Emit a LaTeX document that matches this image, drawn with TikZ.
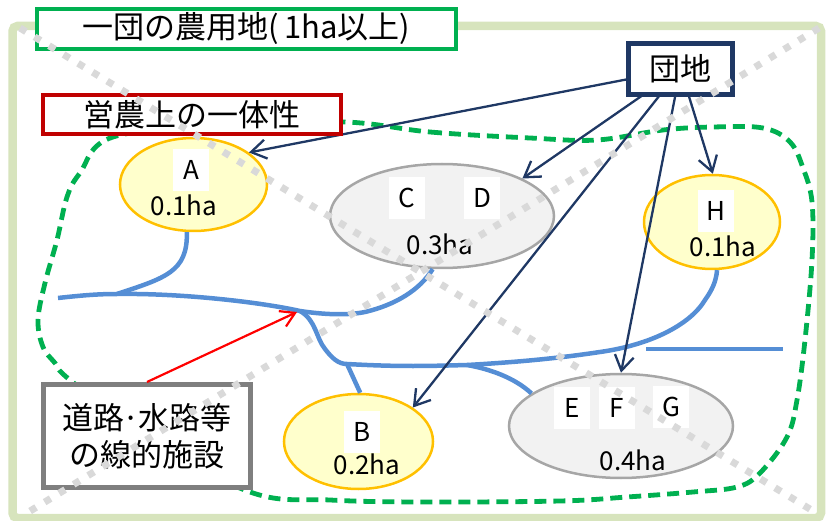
\documentclass[tikz,border=0pt]{standalone}
\usepackage{fontspec}
\newfontfamily\jp{Noto Sans CJK JP}
\usetikzlibrary{arrows.meta,shapes.geometric}
\definecolor{frameg}{HTML}{D7E4BD}
\definecolor{greenB}{HTML}{00B050}
\definecolor{redB}{HTML}{C00000}
\definecolor{navy}{HTML}{1F3864}
\definecolor{grayB}{HTML}{7F7F7F}
\definecolor{yelB}{HTML}{FFC000}
\definecolor{yelF}{HTML}{FFFFCC}
\definecolor{gryB}{HTML}{A6A6A6}
\definecolor{gryF}{HTML}{F2F2F2}
\definecolor{roadB}{HTML}{558ED5}
\definecolor{dotg}{HTML}{D9D9D9}
\pgfdeclarelayer{front}
\pgfdeclarelayer{top}
\pgfsetlayers{main,front,top}
\begin{document}
\begin{tikzpicture}[x=1pt,y=-1pt,font=\jp,
  box/.style={draw,fill=white,inner sep=0pt,align=center,font=\jp\fontsize{31}{37}\selectfont},
  yel/.style={ellipse,draw=yelB,fill=yelF,line width=2.5pt,inner sep=0pt},
  gry/.style={ellipse,draw=gryB,fill=gryF,line width=2.5pt,inner sep=0pt},
  lab/.style={fill=white,inner sep=0pt,minimum width=36pt,minimum height=42pt,font=\jp\fontsize{26}{30}\selectfont},
  ha/.style={inner sep=0pt,font=\jp\fontsize{26}{30}\selectfont},
  road/.style={draw=roadB,line width=4.5pt},
  link/.style={draw=navy,line width=2.3pt,-{Straight Barb[length=15pt,width=19pt]}},
  redlink/.style={draw=red,line width=2.2pt,-{Straight Barb[length=14pt,width=17pt]}},
  dotx/.style={draw=dotg,line width=7pt,dash pattern=on 7pt off 10pt},
  loop/.style={draw=greenB,line width=4.8pt,dash pattern=on 12pt off 7pt}
]
\useasboundingbox (0,0) rectangle (827,521);
% outer frame
\draw[frameg,line width=8.5pt,rounded corners=5pt] (12.5,26) rectangle (821,518);
% green dashed boundary
\draw[loop] plot[smooth cycle,tension=0.6] coordinates {(345,122) (430,132) (530,138) (597,140) (663,130) (713,127) (763,128) (790,142) (803,168) (812,202) (812,260) (805,340) (797,400) (787,437) (760,473) (737,487) (693,492) (627,497) (560,501) (420,502) (330,500) (253,493) (150,440) (70,380) (55,363) (43,347) (38,320) (45,283) (57,240) (67,197) (80,173) (113,137) (230,125)};
% ellipses
\node[yel,minimum width=147pt,minimum height=93pt] (A) at (193.5,184.5) {};
\node[gry,minimum width=224pt,minimum height=104pt] (CD) at (442,216) {};
\node[yel,minimum width=136pt,minimum height=94pt] (H) at (712,222) {};
\node[yel,minimum width=149pt,minimum height=95pt] (B) at (358.5,441.5) {};
\node[gry,minimum width=224pt,minimum height=104pt] (EFG) at (621,426) {};
% roads
\coordinate (j1) at (117,294);
\coordinate (j2) at (300,311);
\coordinate (j3) at (347,364);
\coordinate (j4) at (467,365);
\coordinate (w1) at (58,298);
\coordinate (h1) at (646,349);
\coordinate (h2) at (783,349);
\draw[road] (w1) .. controls (85,295) and (100,294) .. (j1) .. controls (180,293) and (260,302) .. (j2) .. controls (320,314) and (345,316) .. (365,312) .. controls (395,305) and (420,290) .. (CD.260);
\draw[road] (j1) .. controls (165,278) and (188,272) .. (A.262);
\draw[road] (j2) .. controls (316,320) and (316,338) .. (325,349) .. controls (332,358) and (338,364) .. (j3) .. controls (400,367) and (430,366) .. (j4) .. controls (520,362) and (560,358) .. (600,352) .. controls (650,345) and (690,325) .. (705,300) .. controls (712,290) and (716,282) .. (H.276);
\draw[road] (j3) -- (B.88);
\draw[road] (j4) .. controls (490,369) and (515,378) .. (EFG.160);
\draw[road] (h1) -- (h2);
% labels
\node[lab] (la) at (191,170) {A};
\node[ha] (ha) at (184,205) {0.1ha};
\node[lab] (lc) at (407,198) {C};
\node[lab] (ld) at (482,198) {D};
\node[ha] (hcd) at (440,244) {0.3ha};
\node[lab] (lh) at (716,211) {H};
\node[ha] (hh) at (723,246) {0.1ha};
\node[lab] (lb) at (362,432) {B};
\node[ha] (hb) at (367,464) {0.2ha};
\node[lab] (le) at (572,407.5) {E};
\node[lab] (lf) at (617,407.5) {F};
\node[lab] (lg) at (671,407) {G};
\node[ha] (hefg) at (633,460.5) {0.4ha};
% boxes (front layer)
\begin{pgfonlayer}{front}
\node[box,draw=navy,line width=5pt,minimum width=104pt,minimum height=51pt] (danchi) at (680.5,69) {団地};
\node[box,draw=greenB,line width=4pt,minimum width=419pt,minimum height=40pt] (title) at (246.5,29) {一団の農用地(\,1ha以上)};
\node[box,draw=grayB,line width=5pt,minimum width=207pt,minimum height=103pt] (rbox) at (147,436) {道路\kern-2pt·\kern-2pt水路等\\の線的施設};
\node[box,draw=redB,line width=4pt,minimum width=298pt,minimum height=39pt] (eino) at (192,114.5) {営農上の一体性};
\coordinate (redtip) at (297,312);
\draw[redlink] (rbox.north) -- (redtip);
\end{pgfonlayer}
% arrows from 団地 (main layer, under boxes)
\draw[link] (danchi.center) -- (A.30);
\draw[link] (danchi.center) -- (CD.25);
\draw[link] (danchi.center) -- (H.89);
\draw[link] (danchi.center) -- (B.32);
\draw[link] (danchi.center) -- (EFG.90);
% dotted X on top
\begin{pgfonlayer}{top}
\coordinate (x1) at (20,28);
\coordinate (x2) at (818,514);
\coordinate (x3) at (819,28);
\coordinate (x4) at (22,516);
\draw[dotx] (x1) -- (x2);
\draw[dotx] (x3) -- (x4);
\end{pgfonlayer}
\end{tikzpicture}
\end{document}
